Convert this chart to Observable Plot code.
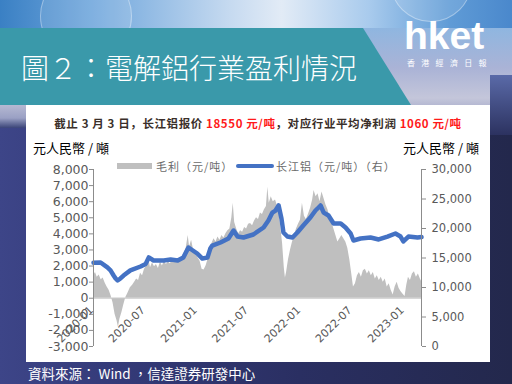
<!DOCTYPE html>
<html>
<head>
<meta charset="utf-8">
<script src="https://cdn.jsdelivr.net/npm/d3@7"></script>
<script src="https://cdn.jsdelivr.net/npm/@observablehq/plot@0.6"></script>
<style>
  html, body { margin: 0; padding: 0; }
  body { width: 512px; height: 384px; overflow: hidden; position: relative;
         background: linear-gradient(to right, #3d4588 0px, #343a78 120px, #2a2f62 300px, #23284c 512px);
         font-family: "Noto Sans CJK TC", "Noto Sans", sans-serif; }
  .abs { position: absolute; white-space: nowrap; }
  #sky { left: 0; top: 0; width: 512px; height: 28px;
         background: linear-gradient(to right, #3a80c4 0%, #6fa6dc 18%, #c6daf0 45%, #e2ebf6 55%, #a9cbed 72%, #5f9bd6 88%, #4a88cc 100%); }
  #bub1 { left: 40px; top: -30px; width: 90px; height: 90px; border-radius: 50%; border: 1px solid rgba(255,255,255,0.35); background: rgba(255,255,255,0.12); }
  #bub2 { left: 390px; top: -60px; width: 80px; height: 80px; border-radius: 50%; border: 1px solid rgba(255,255,255,0.35); background: rgba(255,255,255,0.12); }
  #mid { left: 0; top: 28px; width: 512px; height: 100px;
         background: linear-gradient(to bottom, #8fb6e0 0px, #aab3d6 40px, #c4c6da 70px, #9aa0c4 90px, #3a4478 100px); }
  #midr { left: 490px; top: 75px; width: 22px; height: 60px; background: linear-gradient(to bottom, #5a6aa8, #2c3260); }
  #band { left: 0; top: 28px; width: 420px; height: 77px; background: #3a99aa;
          clip-path: polygon(0 0, 363px 0, 411px 77px, 0 77px); }
  #title { left: 21px; top: 47px; font-size: 28px; line-height: 40px; color: #fff; font-family: "Noto Sans CJK TC"; font-weight: 300; }
  #hket { left: 404px; top: 18.5px; font-size: 39px; line-height: 33px; font-weight: bold; color: #fff;
          font-family: "Liberation Sans", Arial, sans-serif; letter-spacing: 0px; }
  #hketsub { left: 407px; top: 59px; font-size: 8px; line-height: 8px; color: #fff; letter-spacing: 6.3px; font-family: "Noto Sans CJK TC"; }
  #panel { left: 26px; top: 105px; width: 464px; height: 257px; background: #fff; }
  #sub { left: 26px; top: 115px; width: 464px; text-align: center; font-size: 11.5px; line-height: 16px; font-weight: bold;
         color: #3a2f2a; font-family: "Noto Sans CJK SC"; letter-spacing: 0.6px; }
  #sub .r { color: #ff1a1a; }
  .unit { top: 140px; font-size: 13px; line-height: 16px; color: #000; font-family: "Noto Sans CJK TC"; }
  #unitL { left: 33px; }
  #unitR { left: 403px; }
  .leg { top: 159px; font-size: 11px; line-height: 14px; color: #6a6a6a; font-family: "Noto Sans CJK SC"; letter-spacing: 1px; }
  #sw1 { left: 117px; top: 163px; width: 35px; height: 6px; background: #bfbfbf; }
  #lt1 { left: 156px; }
  #sw2 { left: 236px; top: 164px; width: 38px; height: 4px; background: #4472c4; border-radius: 2px; }
  #lt2 { left: 276px; }
  #foot { left: 28px; top: 364px; font-size: 13.5px; line-height: 18px; color: #fff; font-family: "Noto Sans CJK TC"; }
  #chart { left: 26px; top: 140px; }
</style>
</head>
<body>
<div class="abs" id="sky"></div>
<div class="abs" id="bub1"></div>
<div class="abs" id="bub2"></div>
<div class="abs" id="mid"></div>
<div class="abs" id="midr"></div>
<div class="abs" id="band"></div>
<div class="abs" id="title">圖２：電解鋁行業盈利情況</div>
<div class="abs" id="hket">hket</div>
<div class="abs" id="hketsub">香港經濟日報</div>
<div class="abs" id="panel"></div>
<div class="abs" id="chart"></div>
<div class="abs" id="sub">截止 3 月 3 日，长江铝报价 <span class="r">18550 元/吨</span>，对应行业平均净利润 <span class="r">1060 元/吨</span></div>
<div class="abs unit" id="unitL">元人民幣 / 噸</div>
<div class="abs unit" id="unitR">元人民幣 / 噸</div>
<div class="abs" id="sw1"></div>
<div class="abs leg" id="lt1">毛利（元/吨）</div>
<div class="abs" id="sw2"></div>
<div class="abs leg" id="lt2">长江铝（元/吨）（右）</div>
<div class="abs" id="foot">資料來源： Wind ，信達證券研發中心</div>
<script>
// ---- data ----
const profitDates = ["2020-01-01","2020-01-08","2020-01-14","2020-01-21","2020-01-28","2020-02-04","2020-02-11","2020-02-18","2020-02-25","2020-03-03","2020-03-10","2020-03-17","2020-03-24","2020-03-29","2020-04-03","2020-04-10","2020-04-17","2020-04-24","2020-05-01","2020-05-10","2020-05-18","2020-05-25","2020-06-01","2020-06-08","2020-06-15","2020-06-22","2020-06-29","2020-07-06","2020-07-13","2020-07-20","2020-07-27","2020-08-03","2020-08-10","2020-08-17","2020-08-24","2020-08-31","2020-09-07","2020-09-14","2020-09-21","2020-09-28","2020-10-05","2020-10-12","2020-10-19","2020-10-26","2020-11-02","2020-11-09","2020-11-16","2020-11-23","2020-11-30","2020-12-05","2020-12-12","2020-12-19","2020-12-26","2021-01-04","2021-01-11","2021-01-18","2021-01-25","2021-02-01","2021-02-08","2021-02-15","2021-02-22","2021-03-01","2021-03-08","2021-03-15","2021-03-22","2021-03-29","2021-04-05","2021-04-12","2021-04-19","2021-04-26","2021-05-03","2021-05-08","2021-05-13","2021-05-20","2021-05-27","2021-06-03","2021-06-10","2021-06-17","2021-06-24","2021-07-01","2021-07-08","2021-07-15","2021-07-22","2021-07-29","2021-08-05","2021-08-12","2021-08-19","2021-08-26","2021-09-02","2021-09-07","2021-09-12","2021-09-19","2021-09-26","2021-10-04","2021-10-10","2021-10-15","2021-10-22","2021-10-29","2021-11-04","2021-11-08","2021-11-12","2021-11-19","2021-11-26","2021-12-03","2021-12-10","2021-12-17","2021-12-24","2021-12-31","2022-01-07","2022-01-14","2022-01-21","2022-01-28","2022-02-05","2022-02-12","2022-02-17","2022-02-24","2022-03-03","2022-03-10","2022-03-17","2022-03-24","2022-03-31","2022-04-07","2022-04-14","2022-04-21","2022-04-28","2022-05-05","2022-05-12","2022-05-19","2022-05-26","2022-06-02","2022-06-09","2022-06-16","2022-06-23","2022-06-30","2022-07-06","2022-07-13","2022-07-20","2022-07-27","2022-08-03","2022-08-10","2022-08-17","2022-08-24","2022-08-31","2022-09-07","2022-09-14","2022-09-21","2022-09-28","2022-10-05","2022-10-12","2022-10-19","2022-10-26","2022-11-02","2022-11-09","2022-11-16","2022-11-23","2022-11-30","2022-12-07","2022-12-14","2022-12-21","2022-12-28","2023-01-04","2023-01-10","2023-01-16","2023-01-23","2023-01-30","2023-02-06","2023-02-13","2023-02-20","2023-02-27","2023-03-03"];
const profitValues = [1400,1600,1300,1450,1150,1250,950,700,500,150,-300,-1000,-1400,-1800,-1300,-900,-400,50,300,650,800,1000,1200,1100,1550,1400,1800,2000,2550,1900,2200,1950,2100,1850,2250,2000,2300,2100,2250,2150,2350,2200,2300,2450,2400,2550,2800,3100,3900,3200,3600,3000,2800,2500,2300,1800,1750,2000,2400,2900,3400,3700,3500,3800,3600,3900,3750,4000,4200,4300,5000,5900,4700,4300,4000,4200,4100,4400,4300,4600,4650,4500,4800,5000,4900,5300,5200,5500,5700,6900,5900,6300,6000,6100,5800,5600,4500,3400,1900,1250,1600,2400,3000,3500,3900,4300,4600,4850,5900,5100,4900,5200,5600,6100,6700,6300,6500,6000,6600,6200,5800,5500,5000,4700,4300,3900,3500,3700,3900,3700,3500,3100,2400,1500,700,900,1400,1600,1300,1700,1800,1500,1700,1400,1600,1200,1400,1100,1300,1000,1200,700,900,500,200,700,1000,600,400,250,100,800,1300,1100,1500,1650,1300,1500,1200,1060];

const priceDates = ["2020-01-01","2020-01-26","2020-02-19","2020-03-01","2020-03-12","2020-03-19","2020-03-26","2020-04-05","2020-04-16","2020-05-10","2020-06-15","2020-07-03","2020-07-14","2020-07-31","2020-09-05","2020-09-29","2020-10-24","2020-11-13","2020-12-01","2021-01-01","2021-01-19","2021-02-06","2021-02-16","2021-02-23","2021-03-24","2021-04-21","2021-05-09","2021-05-23","2021-06-13","2021-07-18","2021-08-23","2021-09-09","2021-09-23","2021-10-04","2021-10-15","2021-10-25","2021-11-01","2021-11-15","2021-12-03","2021-12-20","2022-01-10","2022-02-04","2022-02-22","2022-03-05","2022-03-12","2022-03-23","2022-04-09","2022-04-27","2022-05-22","2022-06-08","2022-06-26","2022-07-06","2022-07-31","2022-09-04","2022-10-03","2022-11-03","2022-12-01","2022-12-19","2022-12-29","2023-01-16","2023-02-17","2023-03-03"];
const priceValues = [14200,14240,13400,12900,12030,11530,11190,11530,12030,12900,13560,14000,15100,14580,14580,14750,14580,15100,16780,15760,14900,15080,16600,17100,17630,18300,19660,18640,18470,18980,20170,21360,22700,23050,23900,21700,19320,18640,18470,19320,20510,21860,23050,23560,23900,22700,22200,20850,20850,20170,19150,17970,18300,18470,18140,18640,19150,18640,17800,18640,18470,18550];

const leftTicks = [-3000,-2000,-1000,0,1000,2000,3000,4000,5000,6000,7000,8000];
const rightTicks = [0,5000,10000,15000,20000,25000,30000];
const xTickLabels = ["2020-01","2020-07","2021-01","2021-07","2022-01","2022-07","2023-01"];
const xDomainDates = ["2020-01-01","2023-03-03"];
const leftDomain = [-3000, 8000];
const rightDomain = [0, 30000];

// ---- build ----
const parse = d3.utcParse("%Y-%m-%d");
const profit = profitDates.map((d, i) => ({date: parse(d), value: profitValues[i]}));
const price = priceDates.map((d, i) => ({date: parse(d), value: priceValues[i]}));
const toLeft = p => leftDomain[0] + (p - rightDomain[0]) * (leftDomain[1] - leftDomain[0]) / (rightDomain[1] - rightDomain[0]);
const toRight = v => rightDomain[0] + (v - leftDomain[0]) * (rightDomain[1] - rightDomain[0]) / (leftDomain[1] - leftDomain[0]);
const fmt = v => Math.round(v).toLocaleString("en-US");
const xDom = xDomainDates.map(parse);
const xTicks = xTickLabels.map(s => ({date: d3.utcParse("%Y-%m")(s), label: s}));

const chart = Plot.plot({
  width: 464,
  height: 222,
  marginLeft: 67,
  marginRight: 69,
  marginTop: 29,
  marginBottom: 16,
  style: {fontFamily: "DejaVu Sans, sans-serif", fontSize: "12px", color: "#595959", background: "transparent"},
  x: {type: "utc", domain: xDom, axis: null, label: null},
  y: {domain: leftDomain, axis: null, label: null},
  marks: [
    Plot.areaY(profit, {x: "date", y: "value", fill: "#bfbfbf", curve: "linear"}),
    Plot.ruleY([0], {stroke: "#c8c8c8", strokeWidth: 1}),
    Plot.line(price, {x: "date", y: d => toLeft(d.value), stroke: "#4472c4", strokeWidth: 4.5, strokeLinejoin: "round", strokeLinecap: "round"}),
    Plot.ruleX([xDom[0]], {y1: leftDomain[0], y2: leftDomain[1], stroke: "#8c8c8c"}),
    Plot.ruleX([xDom[1]], {y1: leftDomain[0], y2: leftDomain[1], stroke: "#8c8c8c"}),
    Plot.axisY(leftTicks, {anchor: "left", label: null, tickFormat: fmt, tickSize: 4, tickPadding: 1, stroke: "#8c8c8c", fontSize: 12.5}),
    Plot.axisY(rightTicks.map(toLeft), {anchor: "right", label: null, tickFormat: v => fmt(toRight(v)), tickSize: 4, tickPadding: 6, stroke: "#8c8c8c", fontSize: 11.5}),
    Plot.text(xTicks, {x: "date", y: () => 0, text: "label", rotate: -45, textAnchor: "end", dx: -2, dy: 10, fill: "#595959", fontSize: 11})
  ]
});
document.getElementById("chart").appendChild(chart);
</script>
</body>
</html>
